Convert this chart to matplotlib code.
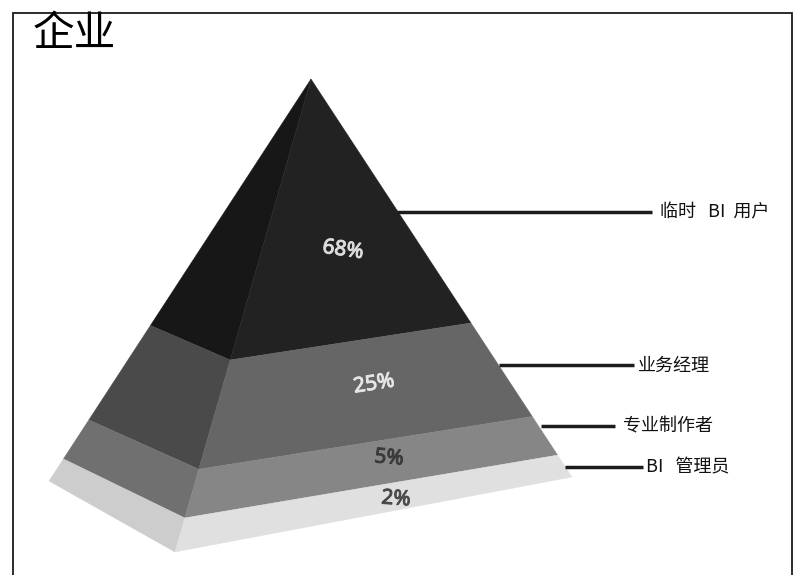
import matplotlib
matplotlib.use('Agg')
import matplotlib.pyplot as plt
import matplotlib.patheffects as pe
from matplotlib.patches import Polygon

plt.rcParams['font.family'] = ['Noto Sans CJK SC', 'DejaVu Sans']

# Dados do grafico
titulo = '企业'
categorias = ['临时   BI  用户', '业务经理', '专业制作者', 'BI   管理员']
percentuais = ['68%', '25%', '5%', '2%']
# onde cada camada termina ao longo das arestas (0 = topo, 1 = base)
fim_lateral = [0.613, 0.848, 0.945, 1.0]
fim_frente = [0.594, 0.825, 0.928, 1.0]
cores_esquerda = ['#171717', '#4a4a4a', '#707070', '#cdcdcd']
cores_direita = ['#222222', '#666666', '#868686', '#e0e0e0']
cores_texto = ['#dcdcdc', '#e6e6e6', '#3a3a3a', '#4a4a4a']

# Geometria em pixels da imagem
topo = (311, 79)
base_esq = (49, 481)
base_frente = (175, 552)
base_dir = (572, 477)
pos_percentual = [(343, 250), (374, 384), (389, 458), (396, 499)]
rot_percentual = [-8, 9, -5, -4]
linhas_y = [212, 365, 426, 467]
linhas_x = [(397, 652), (499, 634), (541, 615), (565, 643)]
pos_rotulo_x = [660, 638, 623, 646]


def ponto(base, t):
    return (topo[0] + (base[0] - topo[0]) * t, topo[1] + (base[1] - topo[1]) * t)


fig = plt.figure(figsize=(8, 5.75), dpi=100)
ax = fig.add_axes([0, 0, 1, 1])
ax.set_xlim(0, 800)
ax.set_ylim(575, 0)
ax.axis('off')

# Moldura (sem linha embaixo)
ax.plot([12.5, 12.5, 791.5, 791.5], [575, 13, 13, 575], color='#1a1a1a', lw=1.3, solid_joinstyle='miter')

# Camadas da piramide
ini_l = 0.0
ini_f = 0.0
for i in range(len(fim_lateral)):
    fim_l = fim_lateral[i]
    fim_f = fim_frente[i]
    esq = [ponto(base_esq, ini_l), ponto(base_frente, ini_f), ponto(base_frente, fim_f), ponto(base_esq, fim_l)]
    dir_ = [ponto(base_frente, ini_f), ponto(base_dir, ini_l), ponto(base_dir, fim_l), ponto(base_frente, fim_f)]
    ax.add_patch(Polygon(esq, closed=True, fc=cores_esquerda[i], ec=cores_esquerda[i], lw=0.3))
    ax.add_patch(Polygon(dir_, closed=True, fc=cores_direita[i], ec=cores_direita[i], lw=0.3))
    ini_l = fim_l
    ini_f = fim_f

# Percentuais
for i in range(len(percentuais)):
    t = ax.text(pos_percentual[i][0], pos_percentual[i][1], percentuais[i], color=cores_texto[i], fontsize=15,
                ha='center', va='center', rotation=rot_percentual[i], family='Noto Sans')
    t.set_path_effects([pe.withStroke(linewidth=0.7, foreground=cores_texto[i])])

# Linhas e rotulos
for i in range(len(categorias)):
    ax.plot(linhas_x[i], [linhas_y[i], linhas_y[i]], color='#1c1c1c', lw=2.5, solid_capstyle='butt')
    ax.text(pos_rotulo_x[i], linhas_y[i] + 0.5, categorias[i], fontsize=13, color='#111111', ha='left', va='center')

ax.text(33, 34, titulo, fontsize=30, color='black', ha='left', va='center')

plt.savefig('out.png', dpi=100)
